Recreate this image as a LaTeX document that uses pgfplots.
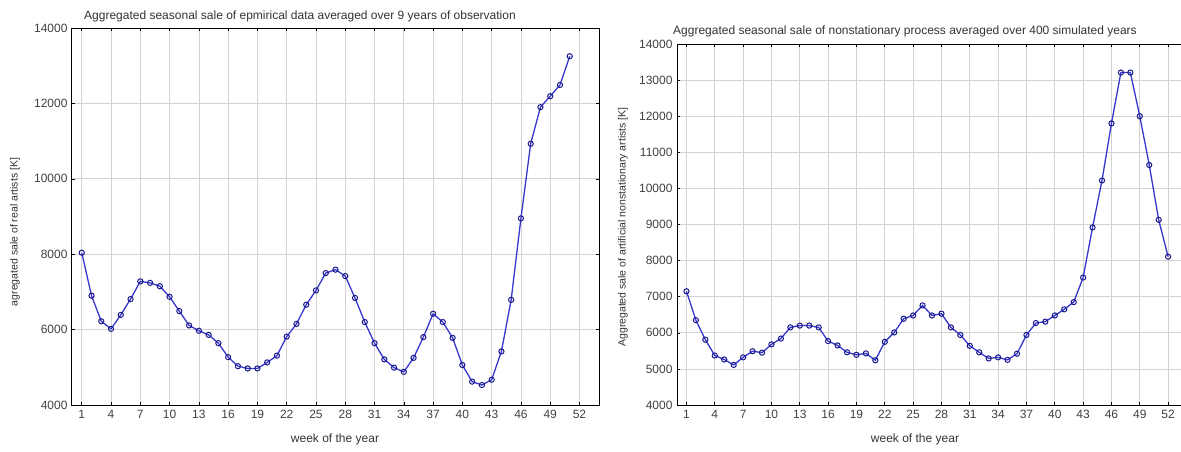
\documentclass[border=0pt]{standalone}
\usepackage{fontspec}
\setmainfont{Liberation Sans}
\usepackage{pgfplots}
\pgfplotsset{compat=1.18}
\definecolor{lineblue}{RGB}{55,55,205}
\definecolor{markblue}{RGB}{25,25,140}
\definecolor{gridgray}{RGB}{210,210,210}
\begin{document}
\begin{tikzpicture}
\useasboundingbox (0pt,0pt) rectangle (1181pt,451pt);
\pgfplotsset{
  myaxis/.style={
    scale only axis,
    xmin=0, xmax=54, ymin=4000, ymax=14000,
    xtick={1,4,...,52},
    scaled y ticks=false,
    grid=major,
    major grid style={gridgray, line width=0.7pt},
    axis line style={black, line width=1pt},
    tick style={black, line width=0.6pt},
    major tick length=3pt,
    tick align=inside,
    ticklabel style={font=\fontsize{12}{13}\selectfont, text=black!75},
    /pgf/number format/assume math mode=true,
    /pgf/number format/1000 sep={},
    xticklabel style={yshift=-2pt},
    yticklabel style={xshift=-1pt},
  },
  myplot/.style={lineblue, line width=1.3pt, mark=o, mark size=2.6pt,
    mark options={markblue, line width=1pt, solid}},
}
\begin{axis}[myaxis, at={(72pt,46pt)}, anchor=south west,
  width=527pt, height=377pt, ytick={4000,6000,...,14000}]
\addplot[myplot] coordinates {
(1,8040) (2,6900) (3,6220) (4,6020) (5,6390) (6,6810) (7,7280) (8,7240)
(9,7150) (10,6870) (11,6490) (12,6110) (13,5970) (14,5860) (15,5640)
(16,5270) (17,5030) (18,4970) (19,4970) (20,5130) (21,5310) (22,5815)
(23,6150) (24,6660) (25,7040) (26,7500) (27,7590) (28,7420) (29,6840)
(30,6200) (31,5640) (32,5210) (33,4990) (34,4880) (35,5250) (36,5800)
(37,6420) (38,6200) (39,5780) (40,5060) (41,4620) (42,4530) (43,4670)
(44,5420) (45,6790) (46,8950) (47,10930) (48,11900) (49,12190)
(50,12490) (51,13250)
};
\end{axis}
\begin{axis}[myaxis, at={(677pt,46pt)}, anchor=south west,
  width=510pt, height=361pt, ytick={4000,5000,...,14000}]
\addplot[myplot] coordinates {
(1,7150) (2,6350) (3,5810) (4,5370) (5,5260) (6,5110) (7,5320) (8,5490)
(9,5450) (10,5680) (11,5840) (12,6150) (13,6200) (14,6200) (15,6150)
(16,5770) (17,5650) (18,5460) (19,5390) (20,5430) (21,5240) (22,5750)
(23,6010) (24,6390) (25,6480) (26,6760) (27,6480) (28,6530) (29,6150)
(30,5940) (31,5640) (32,5460) (33,5290) (34,5320) (35,5250) (36,5420)
(37,5940) (38,6270) (39,6310) (40,6480) (41,6650) (42,6850) (43,7530)
(44,8920) (45,10220) (46,11800) (47,13210) (48,13210) (49,12000)
(50,10650) (51,9130) (52,8110)
};
\end{axis}
\node[font=\fontsize{12}{13}\selectfont, text=black!80] at (300pt,435pt) {Aggregated seasonal sale of epmirical data averaged over 9 years of observation};
\node[font=\fontsize{12}{13}\selectfont, text=black!80] at (905pt,420pt) {Aggregated seasonal sale of nonstationary process averaged over 400 simulated years};
\node[font=\fontsize{12}{13}\selectfont, text=black!80] at (335pt,12pt) {week of the year};
\node[font=\fontsize{12}{13}\selectfont, text=black!80] at (915pt,12pt) {week of the year};
\node[font=\fontsize{10.5}{11}\selectfont, text=black!80, rotate=90] at (15pt,219pt) {agregated sale of real artists [K]};
\node[font=\fontsize{10.5}{11}\selectfont, text=black!80, rotate=90] at (623pt,224pt) {Aggregated sale of artificial nonstationary artists [K]};
\end{tikzpicture}
\end{document}
